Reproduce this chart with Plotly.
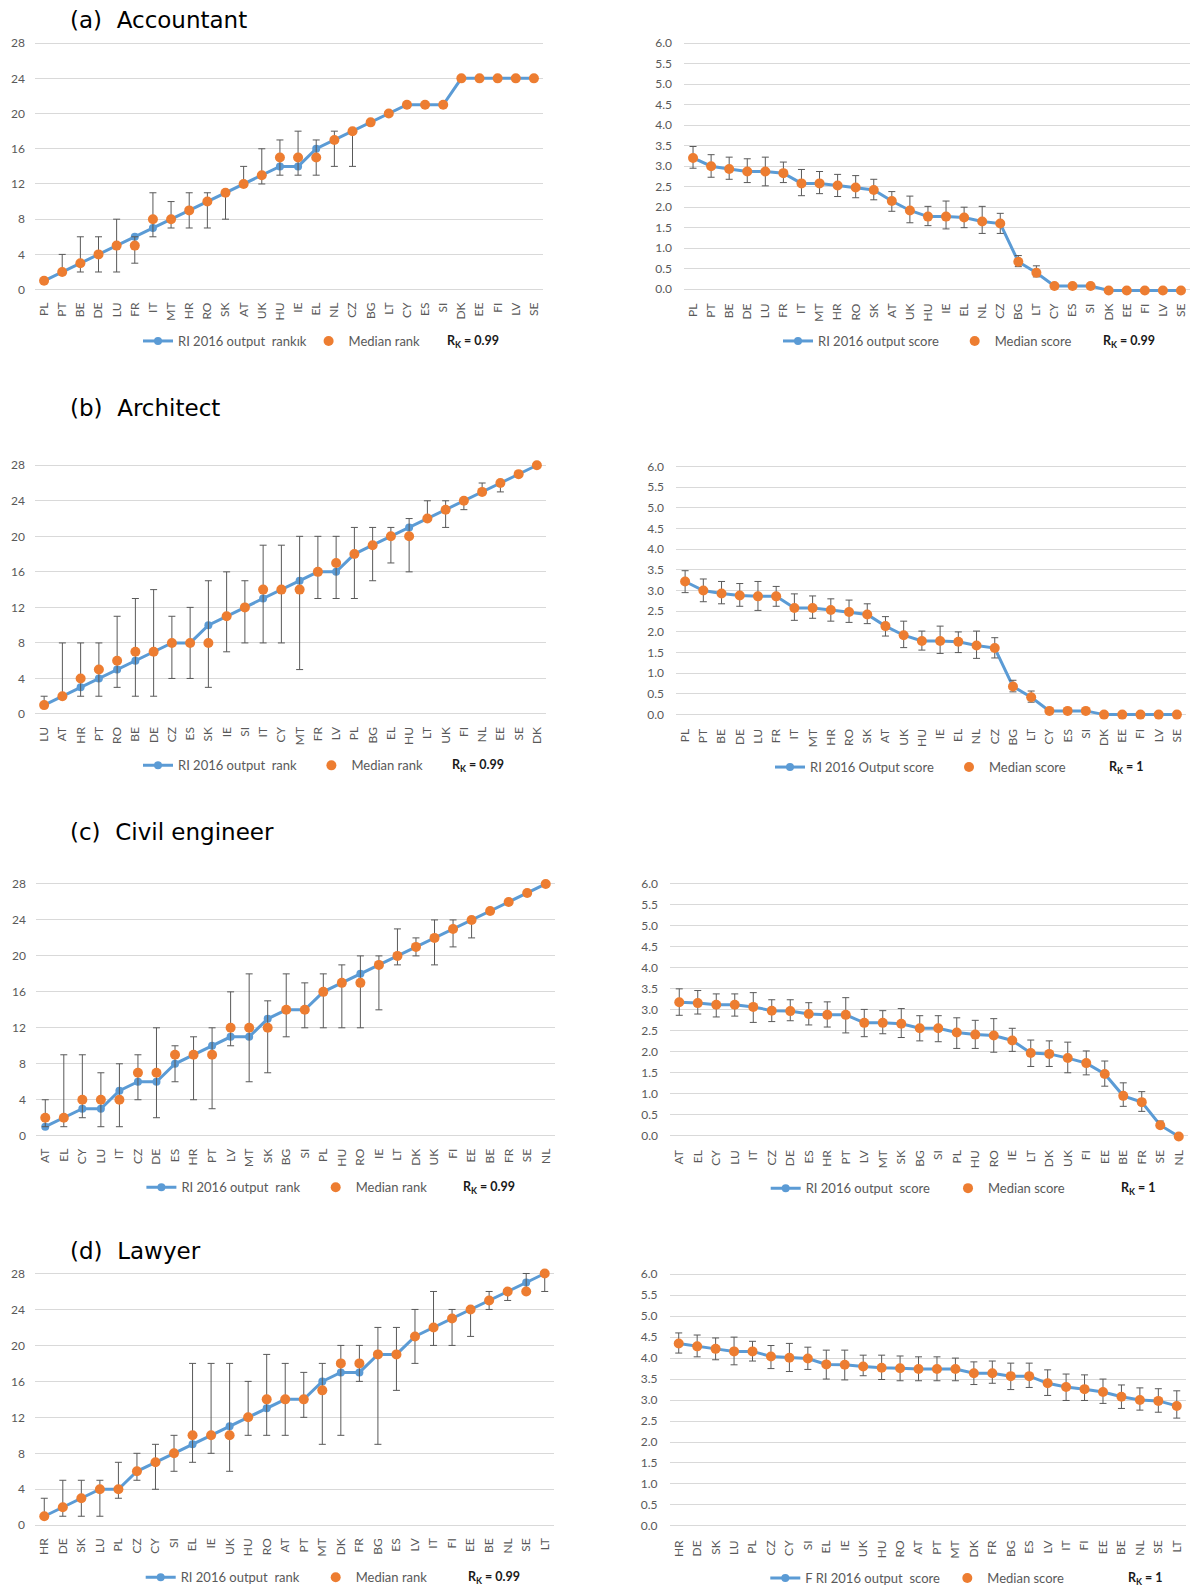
import plotly.graph_objects as go

W, H = 1191, 1593

# ---------------- (a) Accountant ----------------
acc_countries = ["PL", "PT", "BE", "DE", "LU", "FR", "IT", "MT", "HR", "RO", "SK", "AT", "UK", "HU",
                 "IE", "EL", "NL", "CZ", "BG", "LT", "CY", "ES", "SI", "DK", "EE", "FI", "LV", "SE"]
acc_ri_rank = [1, 2, 3, 4, 5, 6, 7, 8, 9, 10, 11, 12, 13, 14, 14, 16, 17, 18, 19, 20, 21, 21, 21, 24, 24, 24, 24, 24]
acc_median_rank = [1, 2, 3, 4, 5, 5, 8, 8, 9, 10, 11, 12, 13, 15, 15, 15, 17, 18, 19, 20, 21, 21, 21, 24, 24, 24, 24, 24]
acc_rank_low = [None, 2, 2, 2, 2, 3, 6, 7, 7, 7, 8, 12, 12, 13, 13, 13, 14, 14,
                None, None, None, None, None, None, None, None, None, None]
acc_rank_high = [None, 4, 6, 6, 8, 6, 11, 10, 11, 11, 11, 14, 16, 17, 18, 17, 18, 18,
                 None, None, None, None, None, None, None, None, None, None]
acc_ri_score = [3.20, 3.00, 2.93, 2.87, 2.87, 2.83, 2.58, 2.58, 2.53, 2.48, 2.42, 2.15, 1.92, 1.77,
                1.77, 1.75, 1.65, 1.60, 0.67, 0.40, 0.08, 0.08, 0.08, -0.03, -0.03, -0.03, -0.03, -0.03]
acc_median_score = [3.20, 3.00, 2.93, 2.87, 2.87, 2.83, 2.58, 2.58, 2.53, 2.48, 2.42, 2.15, 1.92, 1.77,
                    1.77, 1.75, 1.65, 1.60, 0.67, 0.40, 0.08, 0.08, 0.08, -0.03, -0.03, -0.03, -0.03, -0.03]
acc_score_low = [2.95, 2.73, 2.68, 2.60, 2.52, 2.60, 2.28, 2.33, 2.26, 2.23, 2.18, 1.90, 1.62, 1.55,
                 1.47, 1.50, 1.36, 1.36, 0.55, 0.30, None, None, None, None, None, None, None, None]
acc_score_high = [3.48, 3.28, 3.22, 3.18, 3.22, 3.10, 2.92, 2.87, 2.80, 2.77, 2.68, 2.38, 2.27, 2.02,
                  2.15, 2.00, 2.02, 1.85, 0.82, 0.57, None, None, None, None, None, None, None, None]

# ---------------- (b) Architect ----------------
arc_rank_countries = ["LU", "AT", "HR", "PT", "RO", "BE", "DE", "CZ", "ES", "SK", "IE", "SI", "IT", "CY",
                      "MT", "FR", "LV", "PL", "BG", "EL", "HU", "LT", "UK", "FI", "NL", "EE", "SE", "DK"]
arc_ri_rank = [1, 2, 3, 4, 5, 6, 7, 8, 8, 10, 11, 12, 13, 14, 15, 16, 16, 18, 19, 20, 21, 22, 23, 24, 25, 26, 27, 28]
arc_median_rank = [1, 2, 4, 5, 6, 7, 7, 8, 8, 8, 11, 12, 14, 14, 14, 16, 17, 18, 19, 20, 20, 22, 23, 24, 25, 26, 27, 28]
arc_rank_low = [1, 2, 2, 2, 3, 2, 2, 4, 4, 3, 7, 8, 8, 8, 5, 13, 13, 13, 15, 17, 16, 22, 21, 23, 25, 25, None, None]
arc_rank_high = [2, 8, 8, 8, 11, 13, 14, 11, 12, 15, 16, 15, 19, 19, 20, 20, 20, 21, 21, 21, 22, 24, 24, 24, 26, 26,
                 None, None]
arc_score_countries = ["PL", "PT", "BE", "DE", "LU", "FR", "IT", "MT", "HR", "RO", "SK", "AT", "UK", "HU",
                       "IE", "EL", "NL", "CZ", "BG", "LT", "CY", "ES", "SI", "DK", "EE", "FI", "LV", "SE"]
arc_ri_score = [3.22, 3.00, 2.93, 2.88, 2.86, 2.86, 2.58, 2.58, 2.53, 2.48, 2.42, 2.14, 1.92, 1.78,
                1.78, 1.76, 1.67, 1.61, 0.68, 0.42, 0.09, 0.09, 0.09, 0.0, 0.0, 0.0, 0.0, 0.0]
arc_median_score = [3.22, 3.00, 2.93, 2.88, 2.86, 2.86, 2.58, 2.58, 2.53, 2.48, 2.42, 2.14, 1.92, 1.78,
                    1.78, 1.76, 1.67, 1.61, 0.68, 0.42, 0.09, 0.09, 0.09, 0.0, 0.0, 0.0, 0.0, 0.0]
arc_score_low = [2.95, 2.73, 2.68, 2.62, 2.52, 2.62, 2.28, 2.33, 2.26, 2.23, 2.20, 1.90, 1.62, 1.56,
                 1.48, 1.50, 1.36, 1.37, 0.55, 0.30, None, None, None, None, None, None, None, None]
arc_score_high = [3.48, 3.28, 3.22, 3.17, 3.22, 3.10, 2.92, 2.87, 2.80, 2.77, 2.68, 2.37, 2.26, 2.02,
                  2.14, 2.00, 2.02, 1.86, 0.83, 0.57, None, None, None, None, None, None, None, None]

# ---------------- (c) Civil engineer ----------------
civ_countries = ["AT", "EL", "CY", "LU", "IT", "CZ", "DE", "ES", "HR", "PT", "LV", "MT", "SK", "BG",
                 "SI", "PL", "HU", "RO", "IE", "LT", "DK", "UK", "FI", "EE", "BE", "FR", "SE", "NL"]
civ_ri_rank = [1, 2, 3, 3, 5, 6, 6, 8, 9, 10, 11, 11, 13, 14, 14, 16, 17, 18, 19, 20, 21, 22, 23, 24, 25, 26, 27, 28]
civ_median_rank = [2, 2, 4, 4, 4, 7, 7, 9, 9, 9, 12, 12, 12, 14, 14, 16, 17, 17, 19, 20, 21, 22, 23, 24, 25, 26, 27, 28]
civ_rank_low = [1, 1, 2, 1, 1, 4, 2, 6, 4, 3, 10, 6, 7, 11, 12, 12, 12, 12, 14, 19, 20, 19, 21, 22,
                None, None, None, None]
civ_rank_high = [4, 9, 9, 7, 8, 9, 12, 10, 11, 12, 16, 18, 15, 18, 17, 18, 19, 20, 20, 23, 22, 24, 24, 24,
                 None, None, None, None]
civ_ri_score = [3.18, 3.16, 3.12, 3.12, 3.07, 2.98, 2.97, 2.90, 2.88, 2.88, 2.69, 2.69, 2.67, 2.56,
                2.56, 2.46, 2.41, 2.39, 2.27, 1.97, 1.95, 1.85, 1.73, 1.47, 0.95, 0.80, 0.25, -0.02]
civ_median_score = [3.18, 3.16, 3.12, 3.12, 3.07, 2.98, 2.97, 2.90, 2.88, 2.88, 2.69, 2.69, 2.67, 2.56,
                    2.56, 2.46, 2.41, 2.39, 2.27, 1.97, 1.95, 1.85, 1.73, 1.47, 0.95, 0.80, 0.25, -0.02]
civ_score_low = [2.87, 2.90, 2.83, 2.85, 2.70, 2.72, 2.74, 2.64, 2.59, 2.45, 2.36, 2.43, 2.34, 2.26,
                 2.24, 2.08, 2.08, 1.99, 2.01, 1.65, 1.65, 1.50, 1.45, 1.18, 0.70, 0.58, 0.20, None]
civ_score_high = [3.50, 3.46, 3.38, 3.38, 3.41, 3.24, 3.24, 3.17, 3.19, 3.29, 3.01, 2.98, 3.03, 2.86,
                  2.86, 2.81, 2.75, 2.79, 2.56, 2.28, 2.26, 2.23, 2.02, 1.78, 1.26, 1.05, 0.35, None]

# ---------------- (d) Lawyer ----------------
law_countries = ["HR", "DE", "SK", "LU", "PL", "CZ", "CY", "SI", "EL", "IE", "UK", "HU", "RO", "AT",
                 "PT", "MT", "DK", "FR", "BG", "ES", "LV", "IT", "FI", "EE", "BE", "NL", "SE", "LT"]
law_ri_rank = [1, 2, 3, 4, 4, 6, 7, 8, 9, 10, 11, 12, 13, 14, 14, 16, 17, 17, 19, 19, 21, 22, 23, 24, 25, 26, 27, 28]
law_median_rank = [1, 2, 3, 4, 4, 6, 7, 8, 10, 10, 10, 12, 14, 14, 14, 15, 18, 18, 19, 19, 21, 22, 23, 24, 25, 26, 26, 28]
law_rank_low = [1, 1, 1, 1, 3, 5, 4, 6, 7, 8, 6, 10, 10, 10, 12, 9, 10, 16, 9, 15, 18, 20, 20, 21, 24, 25, 26, 26]
law_rank_high = [3, 5, 5, 5, 7, 8, 9, 10, 18, 18, 18, 16, 19, 18, 17, 18, 20, 20, 22, 22, 24, 26, 24, 24, 26, 26, 28, 28]
law_ri_score = [4.35, 4.28, 4.22, 4.16, 4.16, 4.04, 4.01, 3.99, 3.85, 3.84, 3.80, 3.77, 3.76, 3.74,
                3.74, 3.74, 3.64, 3.64, 3.57, 3.57, 3.40, 3.31, 3.26, 3.19, 3.08, 3.00, 2.98, 2.86]
law_median_score = [4.35, 4.28, 4.22, 4.16, 4.16, 4.04, 4.01, 3.99, 3.85, 3.84, 3.80, 3.77, 3.76, 3.74,
                    3.74, 3.74, 3.64, 3.64, 3.57, 3.57, 3.40, 3.31, 3.26, 3.19, 3.08, 3.00, 2.98, 2.86]
law_score_low = [4.12, 4.03, 3.96, 3.84, 3.93, 3.75, 3.68, 3.73, 3.50, 3.48, 3.58, 3.49, 3.46, 3.46,
                 3.46, 3.46, 3.37, 3.40, 3.25, 3.30, 3.11, 2.99, 2.99, 2.92, 2.80, 2.76, 2.71, 2.57]
law_score_high = [4.60, 4.55, 4.48, 4.50, 4.40, 4.30, 4.35, 4.26, 4.19, 4.19, 4.07, 4.07, 4.05, 4.03,
                  4.03, 4.00, 3.91, 3.93, 3.88, 3.88, 3.72, 3.62, 3.60, 3.50, 3.36, 3.29, 3.27, 3.22]

# ---------------- text ----------------
titles = ["(a)\u00a0 Accountant", "(b)\u00a0 Architect", "(c)\u00a0 Civil engineer", "(d)\u00a0 Lawyer"]
line_names = ["RI 2016 output\u00a0 rankık", "RI 2016 output score",
              "RI 2016 output\u00a0 rank", "RI 2016 Output score",
              "RI 2016 output\u00a0 rank", "RI 2016 output\u00a0 score",
              "RI 2016 output\u00a0 rank", "F RI 2016 output\u00a0 score"]
dot_names = ["Median rank", "Median score", "Median rank", "Median score",
             "Median rank", "Median score", "Median rank", "Median score"]
rk_values = ["0.99", "0.99", "0.99", "1", "0.99", "1", "0.99", "1"]

panels = [
    (acc_countries, acc_ri_rank, acc_median_rank, acc_rank_low, acc_rank_high, "rank"),
    (acc_countries, acc_ri_score, acc_median_score, acc_score_low, acc_score_high, "score"),
    (arc_rank_countries, arc_ri_rank, arc_median_rank, arc_rank_low, arc_rank_high, "rank"),
    (arc_score_countries, arc_ri_score, arc_median_score, arc_score_low, arc_score_high, "score"),
    (civ_countries, civ_ri_rank, civ_median_rank, civ_rank_low, civ_rank_high, "rank"),
    (civ_countries, civ_ri_score, civ_median_score, civ_score_low, civ_score_high, "score"),
    (law_countries, law_ri_rank, law_median_rank, law_rank_low, law_rank_high, "rank"),
    (law_countries, law_ri_score, law_median_score, law_score_low, law_score_high, "score"),
]

# ---------------- layout geometry (pixels) ----------------
# plot boxes: left edge, right edge, pixel of top gridline, pixel of zero gridline
boxes = [
    (35, 543, 43.3, 290.7), (684, 1190, 43.3, 290.3),
    (35, 546, 467.0, 716.7), (676, 1186, 468.3, 717.3),
    (36, 555, 887.3, 1140.0), (670, 1188, 887.3, 1140.0),
    (35, 554, 1278.3, 1531.0), (669.5, 1186, 1279.0, 1531.7),
]
# legend: start of line symbol, centre of median marker, start of R_K text, vertical centre
legend_pos = [
    (143, 328.6, 444.6, 342.3), (783, 974.7, 1100.5, 342.3),
    (143, 331.4, 450.0, 768.3), (775, 969.0, 1107.0, 770.0),
    (146.4, 335.7, 460.7, 1191.7), (770.7, 968.0, 1119.0, 1192.7),
    (145.7, 335.7, 466.0, 1583.3), (770.3, 967.3, 1125.8, 1584.0),
]
title_y = [20, 410, 835, 1256]

BLUE = "#5B9BD5"
ORANGE = "#ED7D31"
GRID = "#D9D9D9"
TICK = "#595959"
TICK_FONT = dict(family="Lato, Open Sans, sans-serif", size=12, color=TICK)

fig = go.Figure()
layout = dict(
    width=W, height=H, margin=dict(l=0, r=0, t=0, b=0),
    paper_bgcolor="white", plot_bgcolor="white",
    showlegend=True, annotations=[],
)

for i, (cats, ri, med, lo, hi, kind) in enumerate(panels):
    n = i + 1
    xref = "x" if n == 1 else f"x{n}"
    yref = "y" if n == 1 else f"y{n}"
    leg = "legend" if n == 1 else f"legend{n}"
    x0, x1, p_top, p_zero = boxes[i]

    if kind == "rank":
        v_top, r0, r1, dtick, fmt = 28.0, -0.4, 28.4, 4, "d"
    else:
        v_top, r0, r1, dtick, fmt = 6.0, -0.12, 6.08, 0.5, ".1f"
    k = (p_zero - p_top) / v_top
    top_px = p_top - (r1 - v_top) * k
    bot_px = p_zero + (0 - r0) * k

    plus = [None if h is None else h - m for h, m in zip(hi, med)]
    minus = [None if l is None else m - l for l, m in zip(lo, med)]

    fig.add_trace(go.Scatter(
        x=cats, y=ri, xaxis=xref, yaxis=yref, mode="lines+markers",
        name=line_names[i], legend=leg,
        line=dict(color=BLUE, width=3),
        marker=dict(color=BLUE, size=8),
        cliponaxis=False,
    ))
    fig.add_trace(go.Scatter(
        x=cats, y=med, xaxis=xref, yaxis=yref, mode="markers",
        name=dot_names[i], legend=leg,
        marker=dict(color=ORANGE, size=10),
        error_y=dict(type="data", symmetric=False, array=plus, arrayminus=minus,
                     color="#595959", thickness=1, width=3.5),
        cliponaxis=False,
    ))

    xkey = "xaxis" if n == 1 else f"xaxis{n}"
    ykey = "yaxis" if n == 1 else f"yaxis{n}"
    layout[xkey] = dict(
        domain=[x0 / W, x1 / W], anchor=yref, type="category",
        categoryorder="array", categoryarray=cats, range=[-0.5, len(cats) - 0.5],
        showgrid=False, zeroline=False, showline=False, ticks="",
        tickangle=-90, tickfont=TICK_FONT, ticklabelstandoff=6, automargin=False,
    )
    layout[ykey] = dict(
        domain=[1 - bot_px / H, 1 - top_px / H], anchor=xref,
        range=[r0, r1], tick0=0, dtick=dtick, tickformat=fmt,
        showgrid=True, gridcolor=GRID, gridwidth=1, zeroline=False, showline=False,
        ticks="", tickfont=TICK_FONT, ticklabelstandoff=9 if kind == "rank" else 11,
        automargin=False,
    )

    lx, dot_x, rk_x, ly = legend_pos[i]
    leg_left = lx - 5
    entry_w = (dot_x - 20) - leg_left - 45
    layout[leg] = dict(
        x=leg_left / W, y=1 - ly / H, xanchor="left", yanchor="middle",
        orientation="h", entrywidth=entry_w, entrywidthmode="pixels",
        itemwidth=30, bgcolor="rgba(0,0,0,0)", borderwidth=0,
        font=dict(family="Lato, Open Sans, sans-serif", size=13, color=TICK),
        traceorder="normal",
    )
    layout["annotations"].append(dict(
        x=rk_x / W, y=1 - ly / H, xref="paper", yref="paper",
        xanchor="left", yanchor="middle", showarrow=False,
        text=f"<b>R<sub>K</sub> = {rk_values[i]}</b>",
        font=dict(family="Lato, Open Sans, sans-serif", size=12.5, color="#1a1a1a"),
    ))

for j, t in enumerate(titles):
    layout["annotations"].append(dict(
        x=68 / W, y=1 - title_y[j] / H, xref="paper", yref="paper",
        xanchor="left", yanchor="middle", showarrow=False, text=t,
        font=dict(family="DejaVu Sans, Verdana, sans-serif", size=23, color="#000000"),
    ))

fig.update_layout(**layout)
fig.write_html("out.html")
